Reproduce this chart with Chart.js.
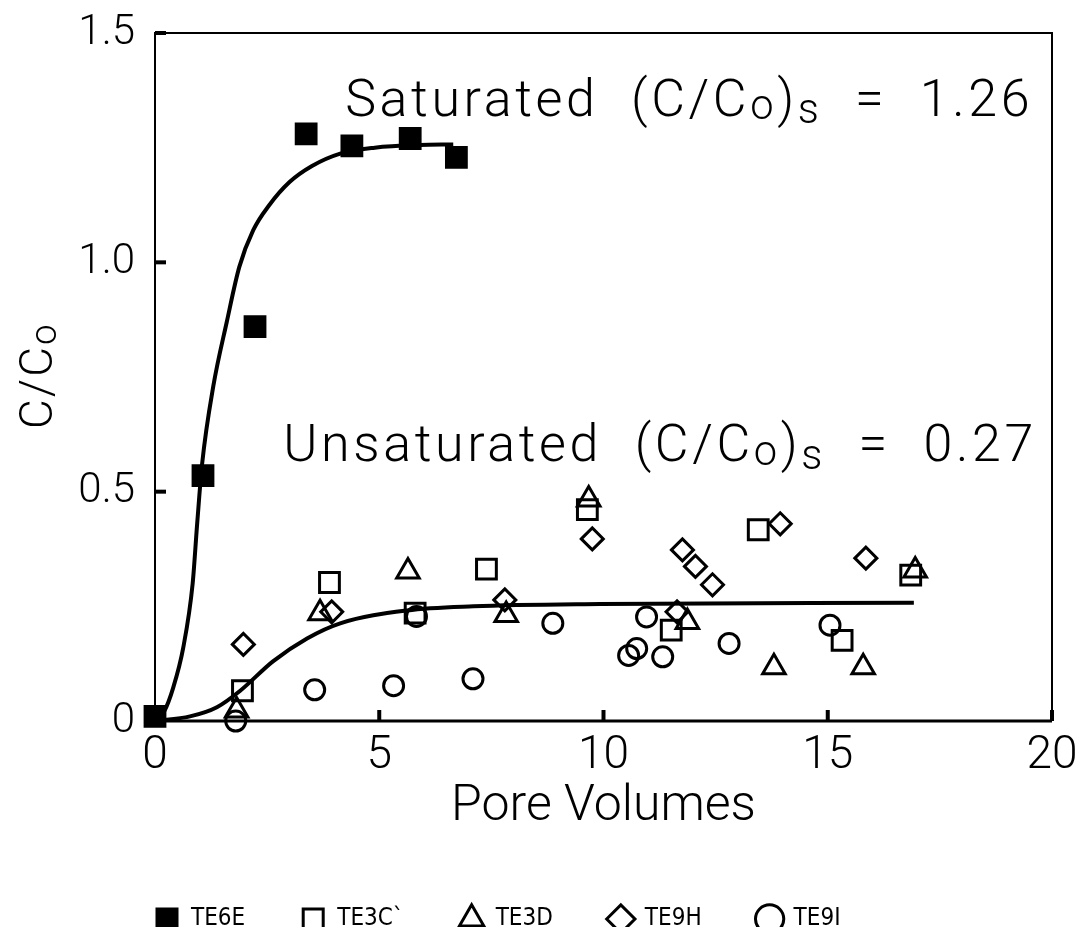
<!DOCTYPE html>
<html>
<head>
<meta charset="utf-8">
<script src="https://cdn.jsdelivr.net/npm/chart.js@4.4.1/dist/chart.umd.min.js"></script>
<style>
  html, body { margin: 0; padding: 0; background: #fff; }
  #wrap { width: 1083px; height: 927px; }
</style>
</head>
<body>
<div id="wrap"><canvas id="chart"></canvas></div>
<script>
// measured points [pore volumes, C/Co]
var te6e = [[0, 0.01], [1.07, 0.535], [2.23, 0.86], [3.37, 1.28], [4.39, 1.254], [5.69, 1.27], [6.72, 1.229]];
var te3c = [[1.95, 0.066], [3.89, 0.302], [5.8, 0.235], [7.39, 0.331], [9.64, 0.461], [11.51, 0.198], [13.45, 0.417], [15.32, 0.176], [16.85, 0.318]];
var te3d = [[1.82, 0.023], [3.68, 0.235], [5.64, 0.326], [7.83, 0.231], [9.67, 0.483], [11.87, 0.216], [13.8, 0.117], [15.79, 0.117], [16.95, 0.328]];
var te9h = [[1.97, 0.167], [3.94, 0.238], [7.8, 0.264], [9.75, 0.397], [11.64, 0.238], [11.76, 0.373], [12.05, 0.337], [12.43, 0.297], [13.94, 0.43], [15.85, 0.355]];
var te9i = [[1.8, 0.0], [3.56, 0.068], [5.32, 0.077], [5.83, 0.228], [7.09, 0.092], [8.87, 0.213], [10.56, 0.143], [10.74, 0.158], [10.96, 0.227], [11.32, 0.14], [12.8, 0.169], [15.05, 0.209]];

// fitted curves
var satX = [0, 0.2, 0.41, 0.63, 0.84, 0.94, 1.05, 1.3, 1.6, 1.88, 2.19, 2.55, 3.0, 3.5, 4.13, 4.9, 5.9, 6.65];
var satY = [0, 0.02, 0.074, 0.16, 0.3, 0.43, 0.56, 0.73, 0.87, 0.99, 1.07, 1.125, 1.175, 1.21, 1.237, 1.25, 1.256, 1.257];
var unsX = [0, 0.78, 1.38, 1.9, 2.63, 3.39, 4.13, 5.62, 7.1, 9.93, 16.92];
var unsY = [0, 0.01, 0.03, 0.066, 0.13, 0.18, 0.213, 0.241, 0.25, 0.255, 0.258];

var xTicks = [0, 5, 10, 15, 20];
var yTicks = [0, 0.5, 1.0, 1.5];

var FONT = "Roboto, 'DejaVu Sans', sans-serif";
var NARROW = "'Liberation Sans Narrow', 'DejaVu Sans Condensed', sans-serif";

function pts(arr) {
    return arr.map(function (p) { return {x: p[0], y: p[1]}; });
}
function curve(xs, ys) {
    return xs.map(function (x, i) { return {x: x, y: ys[i]}; });
}

function marker(label, data, style, filled, radius) {
    return {
        label: label,
        data: pts(data),
        pointStyle: style,
        pointRadius: radius,
        pointHoverRadius: radius,
        pointBorderWidth: 3,
        pointBorderColor: '#000',
        pointBackgroundColor: filled ? '#000' : 'rgba(0,0,0,0)',
        borderColor: '#000',
        backgroundColor: filled ? '#000' : 'rgba(0,0,0,0)',
        showLine: false,
        clip: false
    };
}
function line(label, xs, ys) {
    return {
        label: label,
        data: curve(xs, ys),
        showLine: true,
        borderColor: '#000',
        borderWidth: 4,
        pointRadius: 0,
        cubicInterpolationMode: 'monotone'
    };
}

// text with subscripts
function drawRich(ctx, x, y, parts, size, spacing) {
    ctx.save();
    ctx.fillStyle = '#000';
    ctx.textBaseline = 'alphabetic';
    ctx.textAlign = 'left';
    ctx.letterSpacing = spacing + 'px';
    parts.forEach(function (p) {
        var s = p.sub ? size * 0.8 : size;
        ctx.font = '300 ' + s + 'px ' + FONT;
        ctx.fillText(p.t, x, y + (p.sub ? size * p.sub : 0));
        x += ctx.measureText(p.t).width;
    });
    ctx.restore();
}

var decorPlugin = {
    id: 'decor',
    afterLayout: function (chart) {
        // line the legend up under the plot's left edge
        var lg = chart.legend;
        var shift = chart.chartArea.left - (lg.left + lg.options.labels.padding);
        lg.left += shift;
        lg.right += shift;
        lg.top += 14;
        lg.bottom += 14;
    },
    beforeDatasetsDraw: function (chart) {
        var ctx = chart.ctx, a = chart.chartArea;
        var xs = chart.scales.x, ys = chart.scales.y;
        ctx.save();
        ctx.strokeStyle = '#000';
        // frame
        ctx.lineWidth = 2;
        ctx.beginPath();
        ctx.moveTo(a.left, a.bottom);
        ctx.lineTo(a.left, a.top);
        ctx.lineTo(a.right, a.top);
        ctx.lineTo(a.right, a.bottom);
        ctx.stroke();
        ctx.lineWidth = 3;
        ctx.beginPath();
        ctx.moveTo(a.left, a.bottom);
        ctx.lineTo(a.right, a.bottom);
        ctx.stroke();
        // inward tick marks
        ctx.lineWidth = 4;
        yTicks.forEach(function (v) {
            if (v === 0) return;
            var py = ys.getPixelForValue(v);
            ctx.beginPath();
            ctx.moveTo(a.left, py);
            ctx.lineTo(a.left + 11, py);
            ctx.stroke();
        });
        xTicks.forEach(function (v) {
            if (v === 0) return;
            var px = xs.getPixelForValue(v);
            ctx.beginPath();
            ctx.moveTo(px, a.bottom);
            ctx.lineTo(px, a.bottom - 11);
            ctx.stroke();
        });
        ctx.restore();
    },
    afterDraw: function (chart) {
        var ctx = chart.ctx;
        var xs = chart.scales.x, ys = chart.scales.y;
        drawRich(ctx, xs.getPixelForValue(4.24), ys.getPixelForValue(1.32),
            [{t: 'Saturated  (C/C'}, {t: 'o', sub: 0.06}, {t: ')'}, {t: 's', sub: 0.14}, {t: '  =  1.26'}], 52, 3.6);
        drawRich(ctx, xs.getPixelForValue(2.86), ys.getPixelForValue(0.566),
            [{t: 'Unsaturated  (C/C'}, {t: 'o', sub: 0.06}, {t: ')'}, {t: 's', sub: 0.14}, {t: '  =  0.27'}], 52, 3.6);
        // y axis title, rotated
        ctx.save();
        ctx.translate(52, (chart.chartArea.top + chart.chartArea.bottom) / 2);
        ctx.rotate(-Math.PI / 2);
        drawRich(ctx, -52, 0, [{t: 'C/C'}, {t: 'o', sub: 0.08}], 46, 2);
        ctx.restore();
    }
};

new Chart(document.getElementById('chart').getContext('2d'), {
    type: 'scatter',
    data: {
        datasets: [
            marker('TE6E', te6e, 'rect', true, 14),
            marker('TE3C`', te3c, 'rect', false, 14),
            marker('TE3D', te3d, 'triangle', false, 13),
            marker('TE9H', te9h, 'rectRot', false, 11),
            marker('TE9I', te9i, 'circle', false, 10),
            line('sat', satX, satY),
            line('unsat', unsX, unsY)
        ]
    },
    options: {
        responsive: true,
        maintainAspectRatio: false,
        animation: false,
        layout: {padding: {left: 0, right: 31, top: 33, bottom: 0}},
        plugins: {
            tooltip: {enabled: false},
            legend: {
                position: 'bottom',
                align: 'start',
                labels: {
                    usePointStyle: true,
                    boxHeight: 20,
                    padding: 56,
                    color: '#000',
                    font: {family: NARROW, size: 24},
                    filter: function (item) { return item.text.indexOf('TE') === 0; }
                }
            }
        },
        scales: {
            x: {
                type: 'linear',
                min: 0,
                max: 20,
                afterFit: function (s) {
                    s.height = 116;
                    s.paddingLeft = 0;
                    s.paddingRight = 0;
                },
                grid: {display: false, drawTicks: false},
                border: {display: false},
                ticks: {
                    stepSize: 5,
                    padding: 8,
                    color: '#000',
                    font: {family: FONT, size: 46, weight: '300'}
                },
                title: {
                    display: true,
                    text: 'Pore Volumes',
                    color: '#000',
                    padding: {top: 0, bottom: 0},
                    font: {family: FONT, size: 50, weight: '300'}
                }
            },
            y: {
                type: 'linear',
                min: 0,
                max: 1.5,
                afterFit: function (s) {
                    s.width = 155;
                    s.paddingTop = 0;
                    s.paddingBottom = 0;
                },
                grid: {display: false, drawTicks: false},
                border: {display: false},
                ticks: {
                    stepSize: 0.5,
                    padding: 20,
                    color: '#000',
                    font: {family: FONT, size: 42, weight: '300'},
                    callback: function (v) { return v === 0 ? '0' : v.toFixed(1); }
                }
            }
        }
    },
    plugins: [decorPlugin]
});
</script>
</body>
</html>
